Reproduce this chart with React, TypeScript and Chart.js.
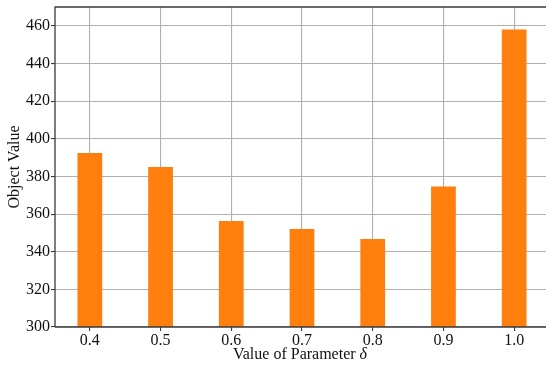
import React, { useEffect, useRef } from "react";
import { Chart, registerables } from "chart.js";

Chart.register(...registerables);

// Parameter δ values shown on the x axis
const deltaLabels: string[] = ["0.4", "0.5", "0.6", "0.7", "0.8", "0.9", "1.0"];
// Objective value obtained for each δ
const objectValues: number[] = [392.5, 385, 356.3, 352, 346.8, 374.7, 458];
// Y axis tick values
const yTicks: number[] = [300, 320, 340, 360, 380, 400, 420, 440, 460];

const xTitleMain = "Value of Parameter ";
const xTitleSymbol = "δ";
const yTitle = "Object Value";

const WIDTH = 546;
const HEIGHT = 367;
const FONT = "'Liberation Serif', 'Times New Roman', serif";
const FONT_SIZE = 16;
const TEXT_COLOR = "#111";
const BAR_COLOR = "#ff7f0e";
const GRID_COLOR = "#b0b0b0";
const SPINE_COLOR = "#3a3a3a";

// Draws the axes frame (left, top and bottom spines)
const framePlugin = {
  id: "frame",
  afterDraw(chart: Chart) {
    const { ctx, chartArea } = chart;
    ctx.save();
    ctx.strokeStyle = SPINE_COLOR;
    ctx.lineWidth = 1.3;
    ctx.beginPath();
    ctx.moveTo(chartArea.left, chartArea.bottom);
    ctx.lineTo(chartArea.left, chartArea.top);
    ctx.lineTo(chartArea.right, chartArea.top);
    ctx.moveTo(chartArea.left, chartArea.bottom);
    ctx.lineTo(chartArea.right, chartArea.bottom);
    ctx.stroke();
    ctx.restore();
  },
};

// X axis title with an italic δ symbol
const xTitlePlugin = {
  id: "xTitle",
  afterDraw(chart: Chart) {
    const { ctx } = chart;
    const xScale: any = chart.scales.x;
    const cx = xScale.getPixelForValue(3) - 2;
    const cy = 355;
    ctx.save();
    ctx.fillStyle = TEXT_COLOR;
    ctx.textBaseline = "middle";
    ctx.textAlign = "left";
    const normalFont = `${FONT_SIZE}px ${FONT}`;
    const italicFont = `italic ${FONT_SIZE}px ${FONT}`;
    ctx.font = normalFont;
    const w1 = ctx.measureText(xTitleMain).width;
    ctx.font = italicFont;
    const w2 = ctx.measureText(xTitleSymbol).width;
    const start = cx - (w1 + w2) / 2;
    ctx.font = normalFont;
    ctx.fillText(xTitleMain, start, cy);
    ctx.font = italicFont;
    ctx.fillText(xTitleSymbol, start + w1, cy);
    ctx.restore();
  },
};

export default function App() {
  const canvasRef = useRef<HTMLCanvasElement | null>(null);

  useEffect(() => {
    document.body.style.margin = "0";
    const canvas = canvasRef.current;
    if (!canvas) return;

    const points = objectValues.map((v, i) => ({ x: i, y: v }));

    const chart = new Chart(canvas, {
      type: "bar",
      data: {
        datasets: [
          {
            data: points,
            backgroundColor: BAR_COLOR,
            borderWidth: 0,
            categoryPercentage: 1,
            barPercentage: 0.35,
          },
        ],
      },
      plugins: [framePlugin, xTitlePlugin],
      options: {
        responsive: false,
        animation: false,
        devicePixelRatio: 1,
        layout: { padding: { top: 6, right: 0, left: 0, bottom: 0 } },
        plugins: {
          legend: { display: false },
          tooltip: { enabled: false },
        },
        scales: {
          x: {
            type: "linear",
            min: -0.4925,
            max: 6.45,
            offset: false,
            z: 1,
            afterBuildTicks: (scale: any) => {
              scale.ticks = deltaLabels.map((_, i) => ({ value: i }));
            },
            afterFit: (scale: any) => {
              scale.height = 40;
            },
            ticks: {
              color: TEXT_COLOR,
              font: { family: FONT, size: FONT_SIZE, lineHeight: 0.75 },
              padding: 4,
              maxRotation: 0,
              autoSkip: false,
              callback: (value: any) => deltaLabels[Math.round(Number(value))] ?? "",
            },
            grid: {
              offset: false,
              color: GRID_COLOR,
              lineWidth: 1.1,
              tickColor: SPINE_COLOR,
              tickLength: 4,
              drawTicks: true,
            },
            border: { display: false },
          },
          y: {
            type: "linear",
            min: 300,
            max: 470,
            z: 1,
            afterBuildTicks: (scale: any) => {
              scale.ticks = yTicks.map((v) => ({ value: v }));
            },
            afterFit: (scale: any) => {
              scale.width = 55;
            },
            ticks: {
              color: TEXT_COLOR,
              font: { family: FONT, size: FONT_SIZE, lineHeight: 0.75 },
              padding: 1,
              callback: (value: any) => String(value),
            },
            grid: {
              color: GRID_COLOR,
              lineWidth: 1.1,
              tickColor: SPINE_COLOR,
              tickLength: 4,
              drawTicks: true,
            },
            border: { display: false },
            title: {
              display: true,
              text: yTitle,
              color: TEXT_COLOR,
              font: { family: FONT, size: FONT_SIZE },
              padding: { top: 5, bottom: 0 },
            },
          },
        },
      },
    });

    return () => chart.destroy();
  }, []);

  return (
    <div style={{ position: "fixed", left: 0, top: 0, width: WIDTH, height: HEIGHT, background: "#fff" }}>
      <canvas ref={canvasRef} width={WIDTH} height={HEIGHT} style={{ display: "block" }} />
    </div>
  );
}
